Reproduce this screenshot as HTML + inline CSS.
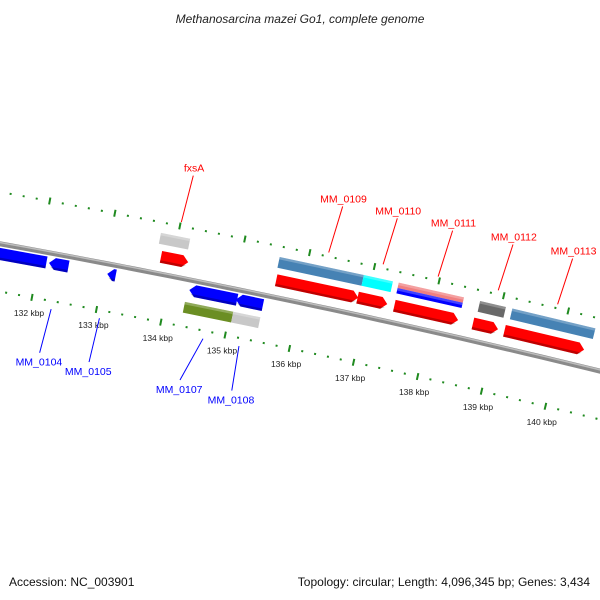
<!DOCTYPE html>
<html><head><meta charset="utf-8"><style>
html,body{margin:0;padding:0;background:#fff;}
svg{display:block;font-family:"Liberation Sans",sans-serif;}
</style></head><body>
<svg id="map" width="600" height="600" viewBox="0 0 600 600" xmlns="http://www.w3.org/2000/svg">
<text x="300" y="23" text-anchor="middle" font-size="12" font-style="italic" fill="#222">Methanosarcina mazei Go1, complete genome</text>
<text x="9" y="586" font-size="12" fill="#111">Accession: NC_003901</text>
<text x="590" y="586" font-size="12" fill="#111" text-anchor="end">Topology: circular; Length: 4,096,345 bp; Genes: 3,434</text>
<g id="layer"></g>
</svg>
<script>
// ---- data (kbp positions) ----
const cdsStart   = [131.0, 132.16, 133.06, 134.33, 135.05, 133.81, 135.59, 136.85, 137.42, 138.64, 139.13];
const cdsEnd     = [132.12, 132.46, 133.19, 135.07, 135.47, 134.23, 136.86, 137.31, 138.41, 139.03, 140.37];
const cdsStrand  = [-1, -1, -1, -1, -1, 1, 1, 1, 1, 1, 1];
const cdsNames   = ["MM_0103","MM_0104","MM_0105","MM_0107","MM_0108","fxsA","MM_0109","MM_0110","MM_0111","MM_0112","MM_0113"];
const boxStart   = [134.30, 135.05, 133.74, 135.57, 136.87, 137.41, 137.41, 138.67, 139.17];
const boxEnd     = [135.05, 135.47, 134.19, 136.87, 137.32, 138.42, 138.42, 139.07, 140.46];
const boxStrand  = [-1, -1, 1, 1, 1, 1, 1, 1, 1];
const boxColor   = ["#6b8e23","#c8c8c8","#c8c8c8","#4682b4","#00ffff","#f08080","#0000ff","#696969","#4682b4"];
const boxPart    = [0,0,0,0,0,1,2,0,0]; // 0 full, 1 outer half, 2 inner half
const labelText  = ["fxsA","MM_0109","MM_0110","MM_0111","MM_0112","MM_0113","MM_0104","MM_0105","MM_0107","MM_0108"];
const labelPos   = [134.01, 136.28, 137.12, 137.97, 138.90, 139.82, 132.32, 133.07, 134.68, 135.24];
const labelShift = [0.04, 0.06, 0.06, 0.06, 0.06, 0.06, -0.05, -0.03, -0.22, 0.03];
const labelStrand= [1,1,1,1,1,1,-1,-1,-1,-1];
const tickLabels = [131,132,133,134,135,136,137,138,139,140];

// ---- geometry ----
const CX=-1775, CY=10085, R=10000, A0=0.18256, DA=0.006593;
function P(k,r){const a=A0+(k-132)*DA;return [CX+r*Math.sin(a), CY-r*Math.cos(a)];}
const NS="http://www.w3.org/2000/svg";
const layer=document.getElementById('layer');
function mk(tag,attrs){const e=document.createElementNS(NS,tag);for(const k in attrs)e.setAttribute(k,attrs[k]);return e;}
function pts(list){return list.map(p=>p[0].toFixed(2)+','+p[1].toFixed(2)).join(' ');}

// backbone
(function(){
  let d='';
  for(let k=129.5;k<=142.5;k+=0.25){const p=P(k,R);d+=(d?'L':'M')+p[0].toFixed(2)+','+p[1].toFixed(2);}
  const b1=mk('path',{d:d,stroke:'#8a8a8a','stroke-width':5,fill:'none'});
  
  
  layer.appendChild(b1);
  const b2=mk('path',{d:d,stroke:'#bdbdbd','stroke-width':1.5,fill:'none',transform:'translate(0,-1.3)'});
  
  
  layer.appendChild(b2);
})();

// ticks
for(let i=0;i<=70;i++){
  const k=129.6+i*0.2;
  const major=Math.abs(k-Math.round(k))<0.01;
  [R+51,R-47].forEach(r=>{
    const l=major?3.5:1;
    const a=P(k,r-l), b=P(k,r+l);
    const t=mk('line',{x1:a[0],y1:a[1],x2:b[0],y2:b[1],stroke:'#1f8a1f','stroke-width':2});
    
    
    layer.appendChild(t);
  });
}
tickLabels.forEach(k=>{
  const p=P(k,R-63);
  const t=mk('text',{x:p[0],y:p[1]+3,'font-size':8.5,'text-anchor':'middle',fill:'#222'});
  t.textContent=k+' kbp';
  
  
  layer.appendChild(t);
});

// colored boxes
boxStart.forEach((s,i)=>{
  const e=boxEnd[i], st=boxStrand[i];
  const rc=st>0?R+35:R-28; const h=11;
  let r1=rc-h/2, r2=rc+h/2;
  if(boxPart[i]===1){r1=rc;} if(boxPart[i]===2){r2=rc;}
  const poly=mk('polygon',{points:pts([P(s,r1),P(e,r1),P(e,r2),P(s,r2)]),fill:boxColor[i]});
  
  
  layer.appendChild(poly);
  const hl=mk('polygon',{points:pts([P(s,r2-2.5),P(e,r2-2.5),P(e,r2),P(s,r2)]),fill:'#fff','fill-opacity':0.25});
  
  
  layer.appendChild(hl);
});

// CDS arrows
cdsStart.forEach((s,i)=>{
  const e=cdsEnd[i], st=cdsStrand[i];
  const rc=st>0?R+17:R-10, h=12, head=0.09;
  let list;
  if(st>0){list=[P(s,rc-h/2),P(e-head,rc-h/2),P(e,rc),P(e-head,rc+h/2),P(s,rc+h/2)];}
  else{list=[P(e,rc-h/2),P(s+head,rc-h/2),P(s,rc),P(s+head,rc+h/2),P(e,rc+h/2)];}
  const col=st>0?'#ff0000':'#0000ff';
  const poly=mk('polygon',{points:pts(list),fill:col});
  
  
  layer.appendChild(poly);
  const dk=st>0?[P(s,rc-h/2),P(e-head,rc-h/2),P(e-head*0.3,rc-h/2+2.5),P(s,rc-h/2+2.5)]
               :[P(e,rc-h/2),P(s+head,rc-h/2),P(s+head*0.3,rc-h/2+2.5),P(e,rc-h/2+2.5)];
  const sh=mk('polygon',{points:pts(dk),fill:'#000','fill-opacity':0.25});
  
  
  layer.appendChild(sh);
});

// labels
labelText.forEach((txt,i)=>{
  const st=labelStrand[i], k=labelPos[i], k2=k+labelShift[i];
  const col=st>0?'#ff0000':'#0000ff';
  const a=st>0?P(k,R+55):P(k,R-55), b=st>0?P(k2,R+103):P(k2,R-100);
  const ln=mk('line',{x1:a[0],y1:a[1],x2:b[0],y2:b[1],stroke:col,'stroke-width':1});
  
  
  layer.appendChild(ln);
  const tp=st>0?P(k2,R+107):P(k2,R-104);
  const t=mk('text',{x:tp[0],y:tp[1]+(st>0?0:9),'font-size':10.5,'text-anchor':'middle',fill:col});
  t.textContent=txt;
  
  
  layer.appendChild(t);
});
</script>
</body></html>
